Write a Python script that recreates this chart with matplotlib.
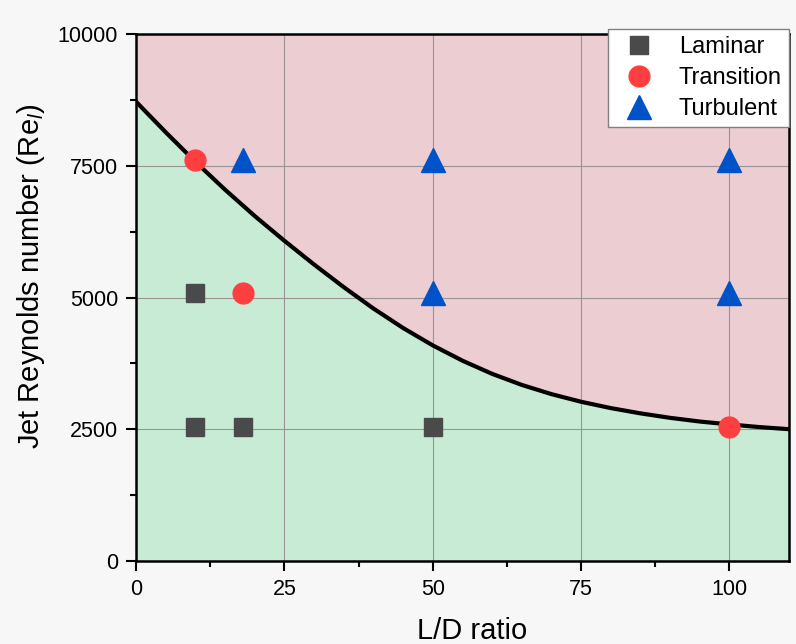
import matplotlib
matplotlib.use("Agg")
import matplotlib.pyplot as plt
from matplotlib.ticker import MultipleLocator

plt.rcParams['font.family'] = ['Liberation Sans', 'DejaVu Sans']
plt.rcParams['mathtext.fontset'] = 'custom'
plt.rcParams['mathtext.rm'] = 'Liberation Sans'
plt.rcParams['mathtext.it'] = 'Liberation Sans:italic'

# Boundary curve
curve_x = [0, 5, 10, 15, 20, 25, 30, 35, 40, 45, 50, 55, 60, 65, 70, 75, 80, 85, 90, 95, 100, 105, 110]
curve_y = [8716, 8136, 7576, 7046, 6546, 6076, 5626, 5196, 4791, 4421, 4091, 3801, 3551, 3341,
           3166, 3021, 2901, 2801, 2716, 2646, 2591, 2541, 2501]

laminar_x = [10, 18, 50, 10]
laminar_y = [2540, 2540, 2540, 5080]
transition_x = [10, 18, 100]
transition_y = [7620, 5080, 2540]
turbulent_x = [18, 50, 100, 50, 100]
turbulent_y = [7620, 7620, 7620, 5080, 5080]

fig = plt.figure(figsize=(7.96, 6.44), dpi=100, facecolor='#f7f7f7')
ax = fig.add_axes([0.171, 0.129, 0.820, 0.818])

ax.fill_between(curve_x, 0, curve_y, color='#c8ebd5', zorder=0, linewidth=0)
ax.fill_between(curve_x, curve_y, 10000, color='#ebcdd2', zorder=0, linewidth=0)
ax.grid(True, which='major', color='#9a9494', linewidth=0.8, zorder=1)
ax.set_axisbelow(False)

ax.plot(curve_x, curve_y, color='black', linewidth=3, zorder=3, solid_joinstyle='round')

ax.plot(laminar_x, laminar_y, linestyle='none', marker='s', markersize=12.5,
        color='#4a4a4a', label='Laminar', zorder=4)
ax.plot(transition_x, transition_y, linestyle='none', marker='o', markersize=15,
        color='#ff3f3f', label='Transition', zorder=4)
ax.plot(turbulent_x, turbulent_y, linestyle='none', marker='^', markersize=17,
        color='#0052c8', label='Turbulent', zorder=4)

ax.set_xlim(0, 110)
ax.set_ylim(0, 10000)
ax.xaxis.set_major_locator(MultipleLocator(25))
ax.xaxis.set_minor_locator(MultipleLocator(12.5))
ax.yaxis.set_major_locator(MultipleLocator(2500))
ax.yaxis.set_minor_locator(MultipleLocator(1250))
ax.tick_params(which='major', direction='out', length=7, width=1.5, labelsize=15.5, pad=6)
ax.tick_params(which='minor', direction='out', length=4, width=1.5)
for s in ax.spines.values():
    s.set_linewidth(1.8)
    s.set_zorder(5)

ax.set_xlabel('L/D ratio', fontsize=21)
ax.set_ylabel('Jet Reynolds number (Re$_{l}$)', fontsize=21)
ax.yaxis.set_label_coords(-0.137, 0.54)
ax.xaxis.set_label_coords(0.515, -0.107)

leg = ax.legend(loc='upper right', bbox_to_anchor=(1.0, 1.01), fontsize=17, frameon=True,
                fancybox=False, framealpha=1, edgecolor='#808080', borderpad=0.3,
                handletextpad=0.7, labelspacing=0.38, borderaxespad=0, markerscale=1.0)
leg.get_frame().set_linewidth(1.0)
leg.set_zorder(6)

fig.savefig('out.png', dpi=100, facecolor=fig.get_facecolor())
